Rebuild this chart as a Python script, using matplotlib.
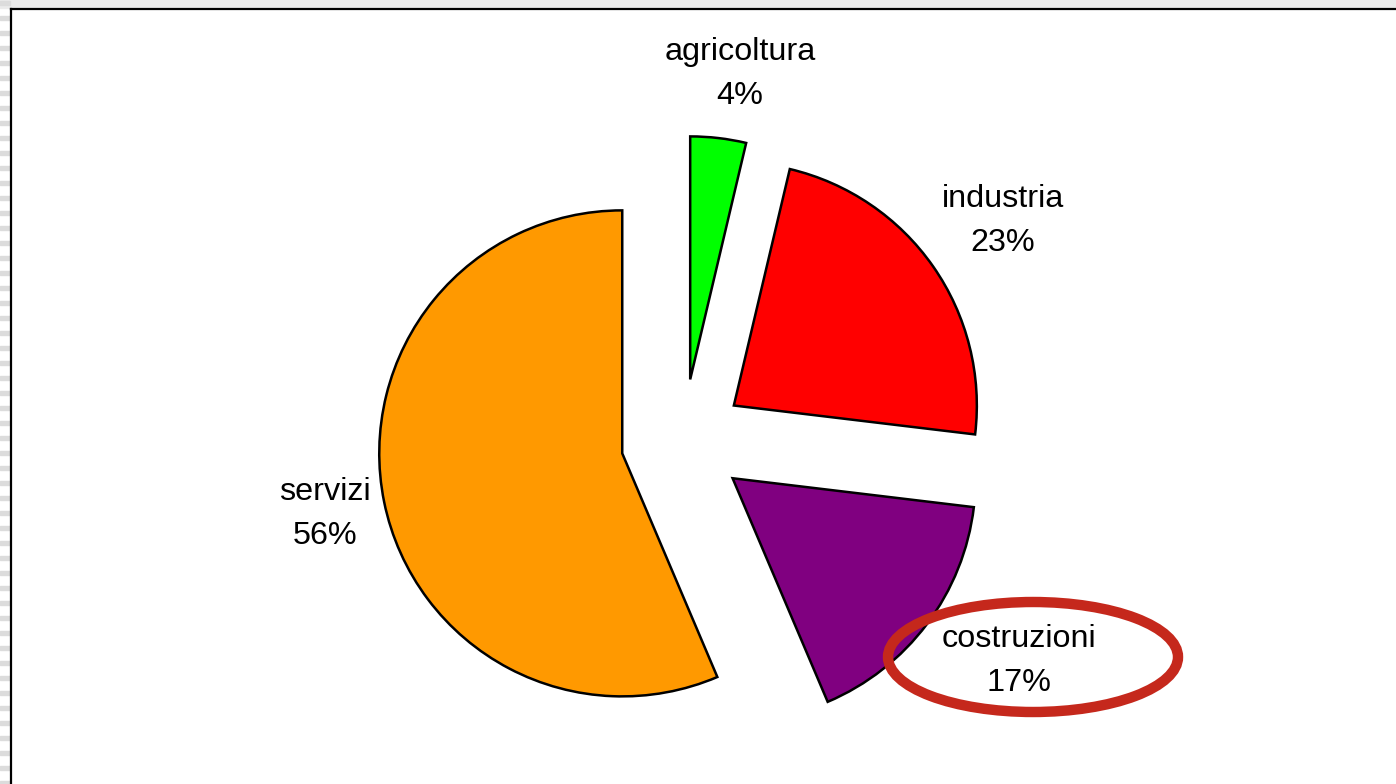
import matplotlib.pyplot as plt
from matplotlib.patches import Ellipse, Rectangle

plt.rcParams['font.family'] = ['Liberation Sans', 'DejaVu Sans']

settori = ['agricoltura', 'industria', 'costruzioni', 'servizi']
quote = [3.7, 23.2, 16.7, 56.4]
etichette_pct = ['4%', '23%', '17%', '56%']
colori = ['#00FF00', '#FF0000', '#800080', '#FF9900']

W, H = 1396, 784
fig = plt.figure(figsize=(W / 100, H / 100), dpi=100)
ax = fig.add_axes([0, 0, 1, 1])
ax.set_xlim(0, W)
ax.set_ylim(0, H)
ax.axis('off')

# cornice in alto e a sinistra
ax.add_patch(Rectangle((0, H - 8), W, 8, color='#ebebeb', zorder=0))
for yy in range(0, H, 15):
    ax.add_patch(Rectangle((0, H - yy - 5), 10, 4, color='#dcdcdc', zorder=0))
ax.plot([10.5, 10.5], [0, H - 8.5], color='black', lw=1.6)
ax.plot([10.5, W], [H - 8.5, H - 8.5], color='black', lw=1.6)

# torta esplosa
ax.pie(quote, colors=colori, startangle=90, counterclock=False,
       center=(683, H - 441), radius=243, explode=[62] * len(quote),
       wedgeprops=dict(edgecolor='black', linewidth=1.8))
ax.set_xlim(0, W)
ax.set_ylim(0, H)
ax.set_aspect('equal')

pos_etichette = [(740, 74), (1003, 221), (1019, 661), (325, 514)]
for nome, pct, (x, y) in zip(settori, etichette_pct, pos_etichette):
    ax.text(x, H - y, f'{nome}\n{pct}', ha='center', va='center',
            fontsize=23.3, linespacing=1.65)

# ellisse rossa intorno a costruzioni
ax.add_patch(Ellipse((1033, H - 657), 290, 110, fill=False,
                     edgecolor='#C5281C', lw=7.5, zorder=5))

fig.savefig('out.png', dpi=100)
